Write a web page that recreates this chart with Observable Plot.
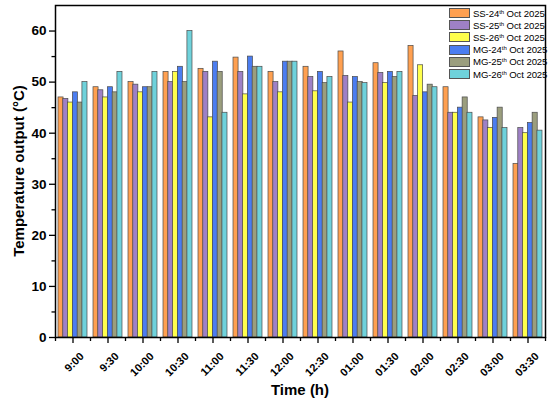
<!DOCTYPE html>
<html>
<head>
<meta charset="utf-8">
<script src="https://cdn.jsdelivr.net/npm/d3@7"></script>
<script src="https://cdn.jsdelivr.net/npm/@observablehq/plot@0.6"></script>
<style>
  html, body { margin: 0; padding: 0; background: #fff; }
  #wrap { position: relative; width: 550px; height: 403px; font-family: "Liberation Sans", Arial, sans-serif; }
  .ytitle { position: absolute; left: 18px; top: 171px; transform: translate(-50%, -50%) rotate(-90deg); font-weight: bold; font-size: 15px; white-space: nowrap; }
  .xtitle { position: absolute; left: 300px; top: 389px; transform: translate(-50%, -50%); font-weight: bold; font-size: 15px; white-space: nowrap; }
  .legend { position: absolute; left: 449px; top: 7px; font-size: 9.6px; letter-spacing: -0.1px; }
  .legend .row { display: flex; align-items: center; height: 12.2px; white-space: nowrap; }
  .legend .sw { width: 19px; height: 8px; border: 0.8px solid #555; margin-right: 3px; flex: none; }
  .legend sup { font-size: 6px; vertical-align: 3.5px; line-height: 0; }
</style>
</head>
<body>
<div id="wrap"></div>
<script>
const times = ["9:00","9:30","10:00","10:30","11:00","11:30","12:00","12:30","01:00","01:30","02:00","02:30","03:00","03:30"];
const seriesNames = ["SS-24th Oct 2025","SS-25th Oct 2025","SS-26th Oct 2025","MG-24th Oct 2025","MG-25th Oct 2025","MG-26th Oct 2025"];
const seriesLabels = [["SS-24","th"," Oct 2025"],["SS-25","th"," Oct 2025"],["SS-26","th"," Oct 2025"],["MG-24","th"," Oct 2025"],["MG-25","th"," Oct 2025"],["MG-26","th"," Oct 2025"]];
const colors = ["#FFA050","#9E80C6","#FFFF4C","#4B7DF0","#9B9E7E","#6FD2DB"];
const ss24 = [47, 49, 50, 52, 52.6, 54.8, 52, 53, 56, 53.7, 57.1, 49, 43.1, 34];
const ss25 = [46.7, 48.4, 49.5, 50, 52, 52, 50, 51, 51.2, 51.8, 47.3, 44, 42.5, 41];
const ss26 = [46, 47, 48, 52, 43.1, 47.6, 48, 48.2, 46, 49.8, 53.3, 44, 41, 40];
const mg24 = [48, 49, 49, 53, 54, 55, 54, 52, 51, 52, 48, 45, 43, 42];
const mg25 = [46, 48, 49, 50, 52, 53, 54, 49.8, 50, 51, 49.5, 47, 45, 44];
const mg26 = [50, 52, 52, 60, 44, 53, 54, 51, 49.8, 52, 49, 44, 41, 40.5];
const yMajor = [0, 10, 20, 30, 40, 50, 60];
const yMinor = [5, 15, 25, 35, 45, 55];

const allSeries = [ss24, ss25, ss26, mg24, mg25, mg26];
const rows = [];
allSeries.forEach((vals, k) => vals.forEach((v, i) => rows.push({time: times[i], series: seriesNames[k], value: v})));

const W = 550, H = 403, mL = 55, mR = 5, mT = 5, mB = 66;
const padIn = 0.18, padOut = 0.09;
const step = (W - mL - mR) / (times.length - padIn + 2 * padOut);
const bw = step * (1 - padIn);
const bar = bw / seriesNames.length;

const barMarks = seriesNames.map((s, k) =>
  Plot.barY(rows.filter(r => r.series === s), {
    x: "time", y: "value", fill: "series",
    stroke: "#4a4a4a", strokeWidth: 0.7,
    insetLeft: k * bar, insetRight: (seriesNames.length - 1 - k) * bar
  })
);

const chart = Plot.plot({
  width: W, height: H,
  marginLeft: mL, marginRight: mR, marginTop: mT, marginBottom: mB,
  style: {fontFamily: "Liberation Sans, Arial, sans-serif", background: "#fff", color: "#000"},
  x: {type: "band", domain: times, paddingInner: padIn, paddingOuter: padOut, axis: null},
  y: {domain: [0, 65], axis: null},
  color: {domain: seriesNames, range: colors},
  marks: [
    ...barMarks,
    Plot.axisY({ticks: yMajor, tickSize: 6, tickPadding: 3, fontSize: 13.5, fontWeight: "bold", label: null, strokeWidth: 1.3}),
    Plot.axisY({ticks: yMinor, tickSize: 3.5, tickFormat: () => "", label: null, strokeWidth: 1.3}),
    Plot.axisX({ticks: times, tickSize: 6, tickFormat: () => "", label: null, strokeWidth: 1.3}),
    Plot.axisX({ticks: times, tickSize: 0, tickPadding: 8, tickRotate: -45, fontSize: 11, fontWeight: "bold", label: null, dx: 9, dy: 9}),
    Plot.axisX({ticks: times, tickSize: 4, tickFormat: () => "", label: null, dx: -step / 2, strokeWidth: 1.3}),
    Plot.axisX({ticks: [times[times.length - 1]], tickSize: 4, tickFormat: () => "", label: null, dx: step / 2, strokeWidth: 1.3}),
    Plot.frame({stroke: "#000", strokeWidth: 1.5})
  ]
});

const wrap = document.getElementById("wrap");
wrap.appendChild(chart);

const yt = document.createElement("div"); yt.className = "ytitle"; yt.textContent = "Temperature output (°C)"; wrap.appendChild(yt);
const xt = document.createElement("div"); xt.className = "xtitle"; xt.textContent = "Time (h)"; wrap.appendChild(xt);

const lg = document.createElement("div"); lg.className = "legend";
seriesLabels.forEach((p, k) => {
  const r = document.createElement("div"); r.className = "row";
  const sw = document.createElement("div"); sw.className = "sw"; sw.style.background = colors[k];
  const t = document.createElement("span");
  t.appendChild(document.createTextNode(p[0]));
  const sup = document.createElement("sup"); sup.textContent = p[1]; t.appendChild(sup);
  t.appendChild(document.createTextNode(p[2]));
  r.appendChild(sw); r.appendChild(t); lg.appendChild(r);
});
wrap.appendChild(lg);
</script>
</body>
</html>
